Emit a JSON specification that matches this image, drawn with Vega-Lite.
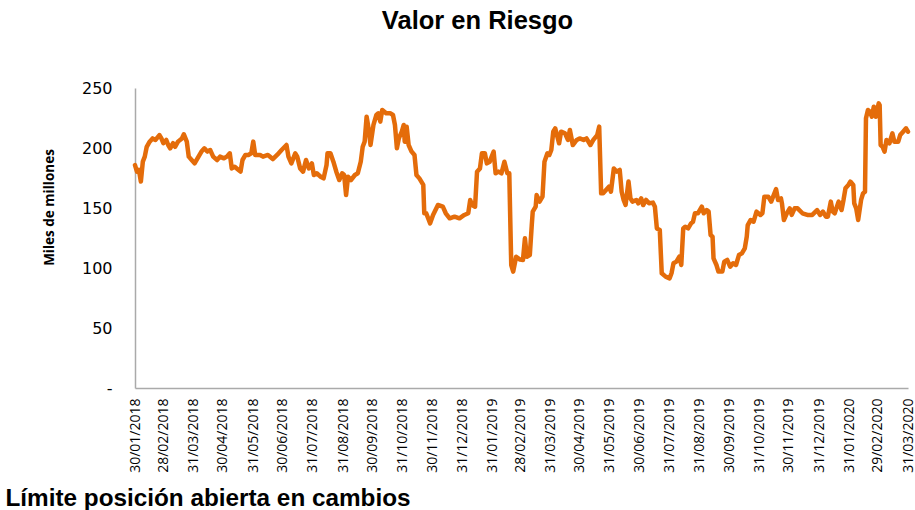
{
 "$schema": "https://vega.github.io/schema/vega-lite/v6.json",
 "width": 773, "height": 300,
 "autosize": "none",
 "padding": {"left": 135, "top": 88, "right": 7, "bottom": 122},
 "background": "white",
 "title": {"text": "Valor en Riesgo", "font": "Liberation Sans", "fontSize": 25.5, "fontWeight": "bold", "color": "black", "anchor": "middle", "dx": -44, "offset": 46},
 "data": {"values": [
{"fecha":"2018/01/30","valor":185.8},{"fecha":"2018/02/01","valor":180.3},{"fecha":"2018/02/03","valor":181.7},{"fecha":"2018/02/05","valor":172},{"fecha":"2018/02/07","valor":188.6},{"fecha":"2018/02/09","valor":192.8},{"fecha":"2018/02/11","valor":201},{"fecha":"2018/02/14","valor":205.3},{"fecha":"2018/02/17","valor":208},{"fecha":"2018/02/20","valor":206.7},{"fecha":"2018/02/24","valor":210.8},{"fecha":"2018/02/26","valor":208},{"fecha":"2018/02/28","valor":204},
{"fecha":"2018/03/03","valor":206.7},{"fecha":"2018/03/05","valor":202.5},{"fecha":"2018/03/07","valor":199.7},{"fecha":"2018/03/10","valor":204},{"fecha":"2018/03/12","valor":201},{"fecha":"2018/03/15","valor":205.3},{"fecha":"2018/03/19","valor":208},{"fecha":"2018/03/21","valor":211.4},{"fecha":"2018/03/24","valor":205.3},{"fecha":"2018/03/26","valor":192.8},{"fecha":"2018/03/29","valor":190},
{"fecha":"2018/04/01","valor":187.2},{"fecha":"2018/04/05","valor":192.8},{"fecha":"2018/04/08","valor":197},{"fecha":"2018/04/11","valor":199.7},{"fecha":"2018/04/14","valor":197},{"fecha":"2018/04/17","valor":198.3},{"fecha":"2018/04/20","valor":192.8},{"fecha":"2018/04/24","valor":190},{"fecha":"2018/04/27","valor":192.8},
{"fecha":"2018/05/01","valor":191.4},{"fecha":"2018/05/04","valor":192.8},{"fecha":"2018/05/07","valor":195.6},{"fecha":"2018/05/09","valor":183},{"fecha":"2018/05/12","valor":184.4},{"fecha":"2018/05/16","valor":181.7},{"fecha":"2018/05/18","valor":180.3},{"fecha":"2018/05/20","valor":190},{"fecha":"2018/05/23","valor":194.2},{"fecha":"2018/05/26","valor":194.2},{"fecha":"2018/05/29","valor":195.6},{"fecha":"2018/05/31","valor":205.3},
{"fecha":"2018/06/02","valor":194.2},{"fecha":"2018/06/05","valor":194.2},{"fecha":"2018/06/07","valor":194.2},{"fecha":"2018/06/10","valor":192.8},{"fecha":"2018/06/15","valor":194.2},{"fecha":"2018/06/20","valor":190.8},{"fecha":"2018/06/26","valor":195.6},{"fecha":"2018/06/29","valor":198.3},
{"fecha":"2018/07/04","valor":202.5},{"fecha":"2018/07/06","valor":192.8},{"fecha":"2018/07/09","valor":187.2},{"fecha":"2018/07/13","valor":195.6},{"fecha":"2018/07/15","valor":192.8},{"fecha":"2018/07/18","valor":183},{"fecha":"2018/07/21","valor":180.3},{"fecha":"2018/07/24","valor":190},{"fecha":"2018/07/27","valor":183},{"fecha":"2018/07/30","valor":187.2},
{"fecha":"2018/08/01","valor":177.5},{"fecha":"2018/08/04","valor":178.9},{"fecha":"2018/08/08","valor":176.1},{"fecha":"2018/08/11","valor":174.7},{"fecha":"2018/08/14","valor":185.8},{"fecha":"2018/08/15","valor":195.6},{"fecha":"2018/08/18","valor":195.6},{"fecha":"2018/08/21","valor":188.6},{"fecha":"2018/08/24","valor":180.3},{"fecha":"2018/08/27","valor":173.3},{"fecha":"2018/08/30","valor":178.9},
{"fecha":"2018/09/01","valor":177.5},{"fecha":"2018/09/03","valor":160.8},{"fecha":"2018/09/05","valor":176.1},{"fecha":"2018/09/08","valor":173.3},{"fecha":"2018/09/12","valor":177.5},{"fecha":"2018/09/15","valor":178.9},{"fecha":"2018/09/18","valor":188.6},{"fecha":"2018/09/20","valor":201},{"fecha":"2018/09/22","valor":205.3},{"fecha":"2018/09/24","valor":226.1},{"fecha":"2018/09/26","valor":216.4},{"fecha":"2018/09/28","valor":202.5},
{"fecha":"2018/10/01","valor":219.2},{"fecha":"2018/10/04","valor":227.5},{"fecha":"2018/10/06","valor":228.9},{"fecha":"2018/10/08","valor":222},{"fecha":"2018/10/10","valor":231.7},{"fecha":"2018/10/14","valor":228.9},{"fecha":"2018/10/18","valor":229},{"fecha":"2018/10/21","valor":227.5},{"fecha":"2018/10/23","valor":219.2},{"fecha":"2018/10/25","valor":199.7},{"fecha":"2018/10/27","valor":208},{"fecha":"2018/10/30","valor":213.6},
{"fecha":"2018/11/01","valor":219.2},{"fecha":"2018/11/02","valor":205.3},{"fecha":"2018/11/04","valor":217.8},{"fecha":"2018/11/06","valor":202.5},{"fecha":"2018/11/09","valor":197},{"fecha":"2018/11/12","valor":194.2},{"fecha":"2018/11/14","valor":177.5},{"fecha":"2018/11/17","valor":174.7},{"fecha":"2018/11/21","valor":169.2},{"fecha":"2018/11/22","valor":145.6},{"fecha":"2018/11/24","valor":145.6},{"fecha":"2018/11/28","valor":137.2},
{"fecha":"2018/12/01","valor":144.2},{"fecha":"2018/12/06","valor":152.5},{"fecha":"2018/12/11","valor":151.1},{"fecha":"2018/12/14","valor":145.6},{"fecha":"2018/12/18","valor":141.4},{"fecha":"2018/12/23","valor":142.8},{"fecha":"2018/12/28","valor":141.4},
{"fecha":"2019/01/02","valor":144.2},{"fecha":"2019/01/06","valor":145.6},{"fecha":"2019/01/08","valor":156.7},{"fecha":"2019/01/10","valor":152.5},{"fecha":"2019/01/13","valor":151.1},{"fecha":"2019/01/15","valor":180.3},{"fecha":"2019/01/18","valor":183},{"fecha":"2019/01/20","valor":195.6},{"fecha":"2019/01/23","valor":195.6},{"fecha":"2019/01/25","valor":187.2},{"fecha":"2019/01/28","valor":188.6},
{"fecha":"2019/02/01","valor":197},{"fecha":"2019/02/03","valor":178.9},{"fecha":"2019/02/06","valor":180.3},{"fecha":"2019/02/09","valor":178.9},{"fecha":"2019/02/12","valor":188.6},{"fecha":"2019/02/15","valor":178.9},{"fecha":"2019/02/17","valor":178.9},{"fecha":"2019/02/19","valor":102.5},{"fecha":"2019/02/21","valor":97},{"fecha":"2019/02/24","valor":109.4},{"fecha":"2019/02/28","valor":107},
{"fecha":"2019/03/03","valor":106.7},{"fecha":"2019/03/05","valor":124.7},{"fecha":"2019/03/07","valor":109.4},{"fecha":"2019/03/10","valor":110.8},{"fecha":"2019/03/12","valor":135.8},{"fecha":"2019/03/13","valor":147},{"fecha":"2019/03/16","valor":151.1},{"fecha":"2019/03/17","valor":160.8},{"fecha":"2019/03/20","valor":155.3},{"fecha":"2019/03/23","valor":159.4},{"fecha":"2019/03/25","valor":188.6},{"fecha":"2019/03/28","valor":195.6},{"fecha":"2019/03/30","valor":194.2},
{"fecha":"2019/04/01","valor":198.3},{"fecha":"2019/04/03","valor":213.6},{"fecha":"2019/04/05","valor":216.4},{"fecha":"2019/04/09","valor":203.9},{"fecha":"2019/04/11","valor":213.6},{"fecha":"2019/04/15","valor":212.2},{"fecha":"2019/04/18","valor":206.7},{"fecha":"2019/04/20","valor":215},{"fecha":"2019/04/23","valor":202.5},{"fecha":"2019/04/27","valor":206.7},{"fecha":"2019/04/30","valor":208},
{"fecha":"2019/05/04","valor":206.7},{"fecha":"2019/05/07","valor":208},{"fecha":"2019/05/11","valor":202.5},{"fecha":"2019/05/14","valor":206.7},{"fecha":"2019/05/18","valor":210.8},{"fecha":"2019/05/20","valor":217.8},{"fecha":"2019/05/22","valor":162.2},{"fecha":"2019/05/24","valor":162.2},{"fecha":"2019/05/27","valor":165},{"fecha":"2019/05/30","valor":167.8},
{"fecha":"2019/06/01","valor":163.6},{"fecha":"2019/06/04","valor":183},{"fecha":"2019/06/07","valor":180.3},{"fecha":"2019/06/10","valor":181.7},{"fecha":"2019/06/12","valor":163.6},{"fecha":"2019/06/14","valor":156.7},{"fecha":"2019/06/16","valor":152.5},{"fecha":"2019/06/19","valor":172},{"fecha":"2019/06/21","valor":158},{"fecha":"2019/06/23","valor":155.3},{"fecha":"2019/06/27","valor":156.7},{"fecha":"2019/06/29","valor":153.9},
{"fecha":"2019/07/02","valor":158},{"fecha":"2019/07/04","valor":152.5},{"fecha":"2019/07/07","valor":156.7},{"fecha":"2019/07/10","valor":153.9},{"fecha":"2019/07/14","valor":154.5},{"fecha":"2019/07/16","valor":151.1},{"fecha":"2019/07/18","valor":133},{"fecha":"2019/07/21","valor":131.7},{"fecha":"2019/07/23","valor":95.6},{"fecha":"2019/07/27","valor":92.8},{"fecha":"2019/07/31","valor":91.4},
{"fecha":"2019/08/02","valor":95.6},{"fecha":"2019/08/04","valor":103.9},{"fecha":"2019/08/07","valor":105.3},{"fecha":"2019/08/10","valor":109.4},{"fecha":"2019/08/12","valor":102.5},{"fecha":"2019/08/14","valor":133},{"fecha":"2019/08/16","valor":134.4},{"fecha":"2019/08/19","valor":133},{"fecha":"2019/08/22","valor":137.2},{"fecha":"2019/08/24","valor":138.6},{"fecha":"2019/08/26","valor":145.6},{"fecha":"2019/08/29","valor":145.6},
{"fecha":"2019/09/02","valor":151.1},{"fecha":"2019/09/04","valor":145.6},{"fecha":"2019/09/07","valor":148.3},{"fecha":"2019/09/09","valor":147},{"fecha":"2019/09/11","valor":127.5},{"fecha":"2019/09/13","valor":126.1},{"fecha":"2019/09/14","valor":108},{"fecha":"2019/09/17","valor":102.5},{"fecha":"2019/09/19","valor":97},{"fecha":"2019/09/23","valor":97},{"fecha":"2019/09/25","valor":105.3},{"fecha":"2019/09/28","valor":106.7},
{"fecha":"2019/10/01","valor":101.1},{"fecha":"2019/10/04","valor":103.9},{"fecha":"2019/10/07","valor":102.5},{"fecha":"2019/10/10","valor":110.8},{"fecha":"2019/10/13","valor":112.2},{"fecha":"2019/10/16","valor":116.4},{"fecha":"2019/10/18","valor":126.1},{"fecha":"2019/10/19","valor":135.8},{"fecha":"2019/10/22","valor":140},{"fecha":"2019/10/25","valor":138.6},{"fecha":"2019/10/28","valor":147},
{"fecha":"2019/11/01","valor":144.2},{"fecha":"2019/11/03","valor":145.6},{"fecha":"2019/11/05","valor":159.4},{"fecha":"2019/11/09","valor":159.4},{"fecha":"2019/11/12","valor":155.3},{"fecha":"2019/11/17","valor":165.8},{"fecha":"2019/11/19","valor":156.7},{"fecha":"2019/11/22","valor":158},{"fecha":"2019/11/23","valor":153.9},{"fecha":"2019/11/25","valor":140},{"fecha":"2019/11/28","valor":145.6},
{"fecha":"2019/12/01","valor":149.7},{"fecha":"2019/12/03","valor":144.2},{"fecha":"2019/12/06","valor":149.7},{"fecha":"2019/12/09","valor":149.7},{"fecha":"2019/12/14","valor":145.6},{"fecha":"2019/12/19","valor":144.2},{"fecha":"2019/12/24","valor":144.2},{"fecha":"2019/12/29","valor":148.3},
{"fecha":"2020/01/01","valor":144.2},{"fecha":"2020/01/04","valor":147},{"fecha":"2020/01/07","valor":142.8},{"fecha":"2020/01/09","valor":142.8},{"fecha":"2020/01/12","valor":155.3},{"fecha":"2020/01/14","valor":147},{"fecha":"2020/01/16","valor":145.6},{"fecha":"2020/01/20","valor":155.3},{"fecha":"2020/01/23","valor":148.3},{"fecha":"2020/01/25","valor":156.7},{"fecha":"2020/01/27","valor":166.4},{"fecha":"2020/01/30","valor":169.2},
{"fecha":"2020/02/01","valor":172},{"fecha":"2020/02/04","valor":169.2},{"fecha":"2020/02/05","valor":153.9},{"fecha":"2020/02/07","valor":149.7},{"fecha":"2020/02/09","valor":140},{"fecha":"2020/02/12","valor":156.7},{"fecha":"2020/02/14","valor":162.2},{"fecha":"2020/02/16","valor":163.6},{"fecha":"2020/02/17","valor":224.7},{"fecha":"2020/02/19","valor":231.7},{"fecha":"2020/02/21","valor":230.3},{"fecha":"2020/02/23","valor":226.1},{"fecha":"2020/02/25","valor":234.4},{"fecha":"2020/02/27","valor":226.1},
{"fecha":"2020/03/01","valor":237.2},{"fecha":"2020/03/02","valor":235.8},{"fecha":"2020/03/03","valor":202.5},{"fecha":"2020/03/05","valor":201},{"fecha":"2020/03/07","valor":197},{"fecha":"2020/03/09","valor":206.7},{"fecha":"2020/03/12","valor":203.9},{"fecha":"2020/03/15","valor":212.2},{"fecha":"2020/03/17","valor":205.3},{"fecha":"2020/03/21","valor":205.3},{"fecha":"2020/03/23","valor":210.8},{"fecha":"2020/03/26","valor":213.6},{"fecha":"2020/03/29","valor":216.4},{"fecha":"2020/03/31","valor":213.6}
 ]},
 "mark": {"type": "line", "color": "#E46C0A", "strokeWidth": 4.5, "strokeCap": "round", "strokeJoin": "round"},
 "encoding": {
  "x": {"field": "fecha", "type": "temporal",
   "scale": {"domain": [{"year": 2018, "month": 1, "date": 30}, {"year": 2020, "month": 3, "date": 31}]},
   "axis": {
    "values": [{"year":2018,"month":1,"date":30},{"year":2018,"month":2,"date":28},{"year":2018,"month":3,"date":31},{"year":2018,"month":4,"date":30},{"year":2018,"month":5,"date":31},{"year":2018,"month":6,"date":30},{"year":2018,"month":7,"date":31},{"year":2018,"month":8,"date":31},{"year":2018,"month":9,"date":30},{"year":2018,"month":10,"date":31},{"year":2018,"month":11,"date":30},{"year":2018,"month":12,"date":31},{"year":2019,"month":1,"date":31},{"year":2019,"month":2,"date":28},{"year":2019,"month":3,"date":31},{"year":2019,"month":4,"date":30},{"year":2019,"month":5,"date":31},{"year":2019,"month":6,"date":30},{"year":2019,"month":7,"date":31},{"year":2019,"month":8,"date":31},{"year":2019,"month":9,"date":30},{"year":2019,"month":10,"date":31},{"year":2019,"month":11,"date":30},{"year":2019,"month":12,"date":31},{"year":2020,"month":1,"date":31},{"year":2020,"month":2,"date":29},{"year":2020,"month":3,"date":31}],
    "labelExpr": "timeFormat(datum.value, '%d/%m/%Y')",
    "labelAngle": -90, "labelFont": "Open Sans", "labelFontSize": 14, "labelColor": "black", "labelPadding": 10,
    "labelOverlap": false, "labelFlush": false, "labelBound": false,
    "ticks": false, "tickSize": 0, "grid": false,
    "domainColor": "#AAAAAA", "domainWidth": 1.5,
    "title": "Límite posición abierta en cambios", "titleFont": "Liberation Sans", "titleFontSize": 24.3, "titleFontWeight": "bold", "titleColor": "black",
    "titleX": -130, "titleY": 117, "titleAlign": "left", "titleBaseline": "alphabetic"
   }
  },
  "y": {"field": "valor", "type": "quantitative",
   "scale": {"domain": [0, 250], "nice": false, "zero": true},
   "axis": {
    "values": [0, 50, 100, 150, 200, 250],
    "labelExpr": "datum.value == 0 ? '-' : datum.label",
    "labelFont": "DejaVu Sans", "labelFontSize": 16, "labelColor": "black", "labelPadding": 23,
    "labelFlush": false, "labelOverlap": false,
    "ticks": false, "tickSize": 0, "grid": false,
    "domainColor": "#AAAAAA", "domainWidth": 1.5,
    "title": "Miles de millones", "titleFont": "Open Sans", "titleFontSize": 13.5, "titleFontWeight": "bold", "titleColor": "black",
    "titleAngle": -90, "titleX": -82, "titleY": 119, "titleAlign": "center", "titleBaseline": "alphabetic"
   }
  }
 },
 "config": {"view": {"stroke": null}}
}
